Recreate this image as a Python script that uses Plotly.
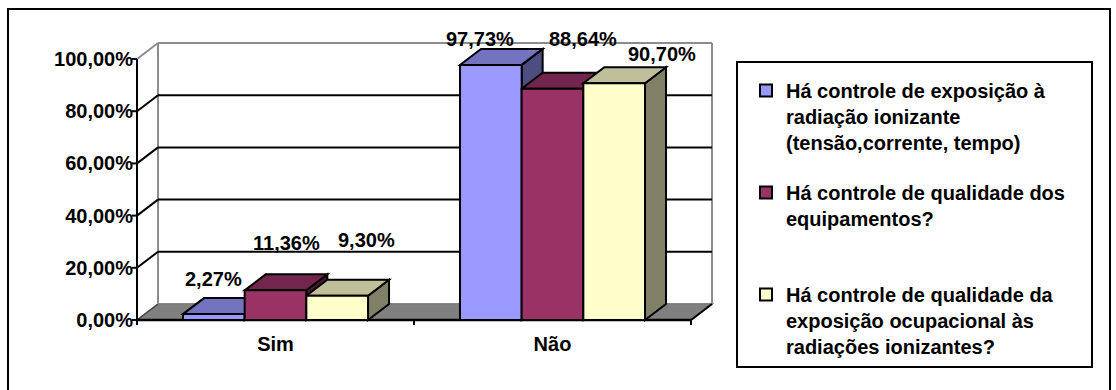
import plotly.graph_objects as go

# ---- data -------------------------------------------------------------
categories = ["Sim", "Não"]
series_names = [
    "Há controle de exposição à<br>radiação ionizante<br>(tensão,corrente, tempo)",
    "Há controle de qualidade dos<br>equipamentos?<br>&nbsp;",
    "Há controle de qualidade da<br>exposição ocupacional às<br>radiações ionizantes?",
]
exposicao = [2.27, 97.73]
equipamentos = [11.36, 88.64]
ocupacional = [9.30, 90.70]
y_ticks = [0, 20, 40, 60, 80, 100]
y_tick_labels = [f"{v:.2f}".replace(".", ",") + "%" for v in y_ticks]

series = [exposicao, equipamentos, ocupacional]

# ---- styling ------------------------------------------------------------
front_colors = ["#9999FF", "#993366", "#FFFFCC"]
top_colors = ["#7373BF", "#73264D", "#BFBF99"]
side_colors = ["#4D4D80", "#4D1A33", "#808066"]
FONT = "Liberation Sans, Arial, sans-serif"
FS = 20

# value-label placement (pixels, relative to the centre of a bar's top edge)
label_dx = [[0, -11], [11, 30], [29, 48]]
label_dy = [[22, 13], [34, 37], [43, 16]]

# ---- geometry (pixels) --------------------------------------------------
W, H = 1116, 390
PLOT_L, PLOT_R, PLOT_T, PLOT_B = 118, 730, 28, 342
AX_X_PX = 137          # front value axis
AX_Y_PX = 320          # zero line
PX_PER_CAT = 277
PX_PER_PCT = 2.61
DEPTH_X_PX, DEPTH_Y_PX = 21, 16
TICK_PX = 5

x_lo = -0.5 - (AX_X_PX - PLOT_L) / PX_PER_CAT
x_hi = -0.5 + (PLOT_R - AX_X_PX) / PX_PER_CAT
y_lo = -(PLOT_B - AX_Y_PX) / PX_PER_PCT
y_hi = (AX_Y_PX - PLOT_T) / PX_PER_PCT
DX = DEPTH_X_PX / PX_PER_CAT
DY = DEPTH_Y_PX / PX_PER_PCT

GROUP_W = 0.668
BW = GROUP_W / 3
X_LEFT, X_RIGHT = -0.5, len(categories) - 0.5
Y_TOP = max(y_ticks)


def paper_x(px):
    return (px - PLOT_L) / (PLOT_R - PLOT_L)


def paper_y(py):
    return (PLOT_B - py) / (PLOT_B - PLOT_T)


shapes = []


def poly(pts, fill, color, width):
    path = "M " + " L ".join(f"{x},{y}" for x, y in pts) + " Z"
    shapes.append(dict(type="path", path=path, xref="x", yref="y",
                       fillcolor=fill, line=dict(color=color, width=width),
                       layer="below"))


def seg(x0, y0, x1, y1, color, width):
    shapes.append(dict(type="line", xref="x", yref="y", x0=x0, y0=y0,
                       x1=x1, y1=y1, line=dict(color=color, width=width),
                       layer="below"))


GREY = "#8C8C8C"

# floor
poly([(X_LEFT, 0), (X_RIGHT, 0), (X_RIGHT + DX, DY), (X_LEFT + DX, DY)],
     "#808080", "#404040", 1.5)
# back wall outline
seg(X_LEFT + DX, DY, X_LEFT + DX, Y_TOP + DY, GREY, 2)
seg(X_RIGHT + DX, DY, X_RIGHT + DX, Y_TOP + DY, GREY, 2)
seg(X_LEFT + DX, Y_TOP + DY, X_RIGHT + DX, Y_TOP + DY, GREY, 2)
seg(X_LEFT + DX, DY, X_RIGHT + DX, DY, GREY, 1.5)
# gridlines on side wall and back wall
for v in y_ticks[1:]:
    c = GREY if v == Y_TOP else "black"
    seg(X_LEFT, v, X_LEFT + DX, v + DY, c, 2)
    if v != Y_TOP:
        seg(X_LEFT + DX, v + DY, X_RIGHT + DX, v + DY, "black", 2)
# front edges of the floor and value axis line
seg(X_LEFT, 0, X_RIGHT, 0, "black", 2.5)
seg(X_RIGHT, 0, X_RIGHT + DX, DY, "black", 2)
seg(X_LEFT, 0, X_LEFT, Y_TOP, "black", 2)
# value-axis tick marks
for v in y_ticks:
    seg(X_LEFT - TICK_PX / PX_PER_CAT, v, X_LEFT, v, "black", 2)
# category boundary ticks
for b in range(len(categories) + 1):
    seg(b - 0.5, 0, b - 0.5, -TICK_PX / PX_PER_PCT, "black", 2)

# bar depth faces: sides first, then tops
bar_lefts = [[c - GROUP_W / 2 + i * BW for c in range(len(categories))]
             for i in range(len(series))]
for c in range(len(categories)):
    for i, vals in enumerate(series):
        l = bar_lefts[i][c]
        r = l + BW
        v = vals[c]
        poly([(r, 0), (r + DX, DY), (r + DX, v + DY), (r, v)],
             side_colors[i], "black", 2)
for c in range(len(categories)):
    for i, vals in enumerate(series):
        l = bar_lefts[i][c]
        r = l + BW
        v = vals[c]
        poly([(l, v), (r, v), (r + DX, v + DY), (l + DX, v + DY)],
             top_colors[i], "black", 2)

fig = go.Figure()
for i, vals in enumerate(series):
    fig.add_trace(go.Bar(
        x=list(range(len(categories))), y=vals, width=BW,
        offset=-GROUP_W / 2 + i * BW, name=series_names[i],
        legendgroup=f"g{i}",
        marker=dict(color=front_colors[i], line=dict(color="black", width=2)),
        hoverinfo="skip",
    ))

# value labels
annotations = []
for i, vals in enumerate(series):
    for c, v in enumerate(vals):
        annotations.append(dict(
            x=bar_lefts[i][c] + BW / 2, y=v, xref="x", yref="y",
            text=f"{v:.2f}".replace(".", ",") + "%", showarrow=False,
            xanchor="center", yanchor="bottom",
            xshift=label_dx[i][c], yshift=label_dy[i][c],
            font=dict(family=FONT, size=FS, color="black", weight="bold"),
        ))

# outer frame and legend frame
shapes.append(dict(type="rect", xref="paper", yref="paper",
                   x0=paper_x(8), x1=paper_x(1110),
                   y0=paper_y(400), y1=paper_y(9),
                   line=dict(color="black", width=2), layer="above"))
shapes.append(dict(type="rect", xref="paper", yref="paper",
                   x0=paper_x(737), x1=paper_x(1092),
                   y0=paper_y(367), y1=paper_y(62),
                   line=dict(color="black", width=2), layer="above"))

fig.update_layout(
    width=W, height=H,
    margin=dict(l=PLOT_L, r=W - PLOT_R, t=PLOT_T, b=H - PLOT_B, autoexpand=False),
    paper_bgcolor="white", plot_bgcolor="rgba(0,0,0,0)",
    barmode="overlay", separators=",.",
    font=dict(family=FONT, size=FS, color="black", weight="bold"),
    showlegend=True,
    legend=dict(x=paper_x(746), y=paper_y(71), xanchor="left", yanchor="top",
                borderwidth=0, bgcolor="rgba(0,0,0,0)", valign="top",
                tracegroupgap=21,
                font=dict(family=FONT, size=FS, color="black", weight="bold")),
    xaxis=dict(range=[x_lo, x_hi], anchor="free",
               position=paper_y(AX_Y_PX),
               tickvals=list(range(len(categories))), ticktext=categories,
               ticks="", ticklabelstandoff=10,
               showline=False, showgrid=False, zeroline=False,
               tickfont=dict(family=FONT, size=FS, color="black", weight="bold"),
               fixedrange=True),
    yaxis=dict(range=[y_lo, y_hi], anchor="free",
               position=paper_x(AX_X_PX),
               tickvals=y_ticks, ticktext=y_tick_labels,
               ticks="", ticklabelstandoff=4,
               showline=False, showgrid=False, zeroline=False,
               tickfont=dict(family=FONT, size=FS, color="black", weight="bold"),
               fixedrange=True),
    shapes=shapes, annotations=annotations,
)

fig.write_html("out.html")
